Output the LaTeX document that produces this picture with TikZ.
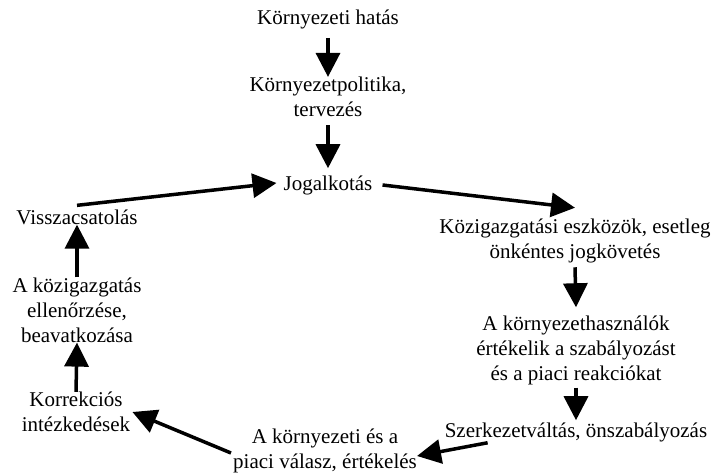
\documentclass[tikz,border=0pt]{standalone}
\usepackage{fontspec}
\setmainfont{Liberation Serif}
\usetikzlibrary{arrows.meta}
\begin{document}
\begin{tikzpicture}[x=1pt,y=-1pt,
  lbl/.style={inner sep=0pt,align=center,font=\fontsize{21}{25}\selectfont},
  arr/.style={line width=3.5pt,-{Triangle[length=24pt,width=24pt]}}]
\useasboundingbox (0,0) rectangle (713,473);
% stages of the cycle
\node[lbl] (imp)  at (328,19)  {Környezeti hatás};
\node[lbl] (pol)  at (328,97)  {Környezetpolitika,\\tervezés};
\node[lbl] (jog)  at (328,185) {Jogalkotás};
\node[lbl] (koz)  at (575,241) {Közigazgatási eszközök, esetleg\\önkéntes jogkövetés};
\node[lbl] (hasz) at (576,350) {A környezethasználók\\értékelik a szabályozást\\és a piaci reakciókat};
\node[lbl] (szerk) at (576,432) {Szerkezetváltás, önszabályozás};
\node[lbl] (val)  at (325,451) {A környezeti és a\\piaci válasz, értékelés};
\node[lbl] (korr) at (76,412)  {Korrekciós\\intézkedések};
\node[lbl] (ell)  at (77,310)  {A közigazgatás\\ellenőrzése,\\beavatkozása};
\node[lbl] (viss) at (77,217)  {Visszacsatolás};
% connectors
\draw[arr] ([yshift=-9pt]imp.south) -- (pol.north);
\draw[arr] ([yshift=-8pt]pol.south) -- ([yshift=7pt]jog.north);
\draw[arr] ([yshift=4pt]viss.north) -- ([xshift=-7pt,yshift=2pt]jog.west);
\draw[arr] ([xshift=10pt]jog.east) -- ([yshift=11pt]koz.north);
\draw[arr] ([yshift=-4pt]koz.south) -- ([yshift=8pt]hasz.north);
\draw[arr] ([yshift=-3pt]hasz.south) -- ([yshift=2pt]szerk.north);
\draw[arr] ([xshift=43pt,yshift=-1pt]szerk.south west) -- ([yshift=-5pt]val.east);
\draw[arr] ([xshift=-2pt,yshift=-2pt]val.west) -- ([xshift=2pt]korr.east);
\draw[arr] (korr.north) -- (ell.south);
\draw[arr] (ell.north) -- (viss.south);
\end{tikzpicture}
\end{document}
